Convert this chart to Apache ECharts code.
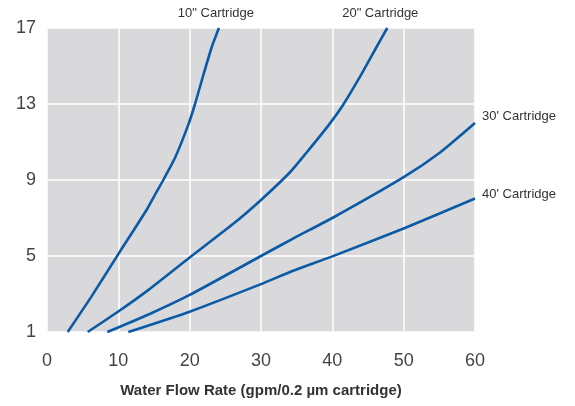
<!DOCTYPE html>
<html>
<head>
<meta charset="utf-8">
<script src="https://cdn.jsdelivr.net/npm/echarts@6/dist/echarts.min.js"></script>
<style>html,body{margin:0;padding:0;background:#fff}#c{width:575px;height:406px}</style>
</head>
<body>
<div id="c"></div>
<script>
// Data: [flow rate (gpm), pressure drop]
var seriesNames = ['10" Cartridge', '20" Cartridge', "30' Cartridge", "40' Cartridge"];
var c10 = [[2.9,1],[6.2,2.85],[10,5.1],[14,7.45],[15.3,8.33],[16.3,9],[17.95,10.17],[19.8,11.9],[20.75,13],[21.9,14.5],[23.1,16.0],[24.1,17]];
var c20 = [[5.7,1],[10,2.08],[14,3.15],[20,4.92],[26.2,6.72],[30,7.95],[34.1,9.42],[36.4,10.45],[39.4,11.85],[41.5,12.95],[43.9,14.45],[46.2,16.0],[47.7,17]];
var c30 = [[8.45,1],[14.4,1.95],[20,2.95],[30,5.0],[34.5,5.92],[40,7.0],[50,9.15],[55.1,10.45],[60,12.0]];
var c40 = [[11.4,1],[20,2.07],[30,3.52],[34.5,4.22],[40,4.98],[50,6.45],[60,8.03]];
var xTicks = [0,10,20,30,40,50,60];
var yTicks = [1,5,9,13,17];
var xTitle = 'Water Flow Rate (gpm/0.2 \u00b5m cartridge)';

var lineColor = '#0b5aa6';
var labelFont = 'Liberation Sans';
function mk(name, data, endLbl) {
  return {
    name: name, type: 'line', data: data, smooth: 0.2, symbol: 'none',
    lineStyle: { color: lineColor, width: 2.6 },
    endLabel: Object.assign({ show: true, formatter: name, color: '#333', fontSize: 13, fontFamily: labelFont }, endLbl)
  };
}
var chart = echarts.init(document.getElementById('c'));
chart.setOption({
  animation: false,
  grid: { left: 47, right: 100, top: 28, bottom: 74, show: true, backgroundColor: '#d9d9db', borderWidth: 0 },
  xAxis: {
    type: 'value', min: xTicks[0], max: xTicks[xTicks.length-1], interval: 10,
    name: xTitle, nameLocation: 'middle', nameGap: 51,
    nameTextStyle: { fontFamily: labelFont, fontWeight: 'bold', fontSize: 15, color: '#333' },
    axisLine: { show: false }, axisTick: { show: false },
    axisLabel: { fontFamily: labelFont, fontSize: 18, color: '#444', margin: 20 },
    splitLine: { show: true, lineStyle: { color: '#ffffff', width: 1.5 } }
  },
  yAxis: {
    type: 'value', min: yTicks[0], max: yTicks[yTicks.length-1], interval: 4,
    axisLine: { show: false }, axisTick: { show: false },
    axisLabel: { fontFamily: labelFont, fontSize: 18, color: '#444', margin: 11 },
    splitLine: { show: true, lineStyle: { color: '#ffffff', width: 1.5 } }
  },
  series: [
    mk(seriesNames[0], c10, { distance: 0, align: 'center', verticalAlign: 'middle', offset: [-3, -15] }),
    mk(seriesNames[1], c20, { distance: 0, align: 'center', verticalAlign: 'middle', offset: [-7, -15] }),
    mk(seriesNames[2], c30, { distance: 7, offset: [0, -7] }),
    mk(seriesNames[3], c40, { distance: 7, offset: [0, -4] })
  ]
});
</script>
</body>
</html>
